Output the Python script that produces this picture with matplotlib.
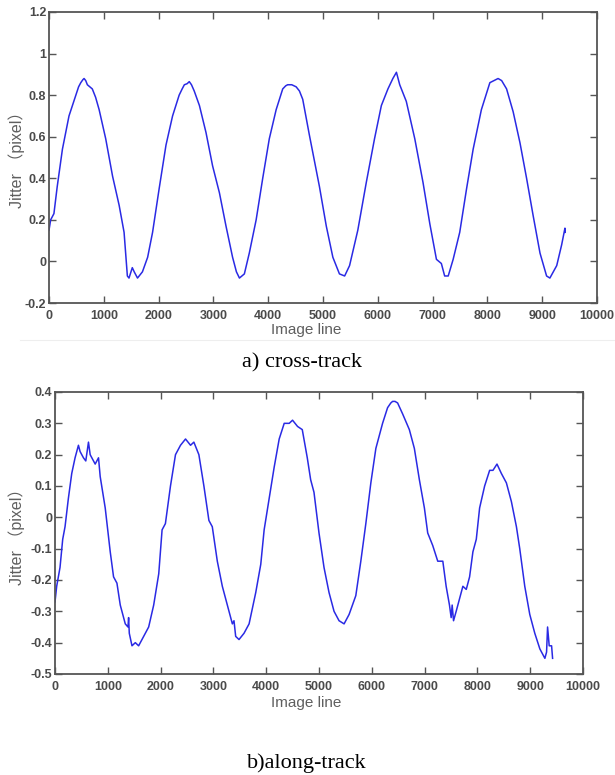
import numpy as np
import matplotlib
matplotlib.use("Agg")
import matplotlib.pyplot as plt
from matplotlib.ticker import FuncFormatter
from matplotlib.lines import Line2D

# cross-track jitter
cross_x = [0, 30, 90, 150, 245, 365, 490, 540, 580, 620,
           640, 670, 700, 745, 790, 850, 915, 1035, 1160, 1280,
           1370, 1430, 1460, 1520, 1555, 1615, 1705, 1800, 1890, 2010,
           2135, 2255, 2375, 2430, 2470, 2520, 2560, 2600, 2650, 2745,
           2865, 2985, 3110, 3230, 3350, 3420, 3475, 3520, 3565, 3655,
           3780, 3900, 4020, 4145, 4265, 4320, 4355, 4430, 4510, 4570,
           4630, 4750, 4935, 5060, 5180, 5300, 5395, 5485, 5635, 5790,
           5940, 6065, 6185, 6275, 6340, 6400, 6520, 6675, 6825, 6950,
           7070, 7160, 7220, 7285, 7375, 7495, 7620, 7740, 7890, 8045,
           8120, 8195, 8260, 8350, 8470, 8595, 8715, 8835, 8960, 9080,
           9140, 9265, 9355, 9415, 9420]
cross_y = [0.15, 0.20, 0.23, 0.36, 0.54, 0.70, 0.80, 0.84, 0.86, 0.875,
           0.88, 0.87, 0.85, 0.84, 0.83, 0.79, 0.73, 0.59, 0.41, 0.27,
           0.14, -0.07, -0.08, -0.03, -0.05, -0.08, -0.05, 0.02, 0.14, 0.35,
           0.56, 0.70, 0.80, 0.83, 0.85, 0.855, 0.865, 0.85, 0.82, 0.75,
           0.62, 0.46, 0.33, 0.17, 0.02, -0.05, -0.08, -0.07, -0.06, 0.04,
           0.20, 0.40, 0.59, 0.73, 0.83, 0.845, 0.85, 0.85, 0.84, 0.82,
           0.78, 0.61, 0.36, 0.17, 0.02, -0.06, -0.07, -0.02, 0.15, 0.38,
           0.59, 0.75, 0.83, 0.88, 0.91, 0.85, 0.77, 0.59, 0.38, 0.18,
           0.01, -0.01, -0.07, -0.07, 0.01, 0.14, 0.35, 0.54, 0.73, 0.86,
           0.87, 0.88, 0.87, 0.83, 0.72, 0.57, 0.40, 0.22, 0.04, -0.07,
           -0.08, -0.02, 0.08, 0.16, 0.14]

# along-track jitter
along_x = [0, 32, 95, 146, 190, 253, 317, 380, 444, 475,
           539, 583, 634, 666, 761, 824, 856, 951, 1046, 1109,
           1173, 1236, 1331, 1382, 1394, 1407, 1458, 1521, 1584, 1679,
           1774, 1869, 1965, 2028, 2091, 2123, 2187, 2282, 2377, 2472,
           2567, 2630, 2725, 2820, 2915, 2979, 3074, 3169, 3264, 3359,
           3390, 3422, 3485, 3580, 3676, 3802, 3897, 3961, 4056, 4151,
           4246, 4341, 4436, 4499, 4594, 4683, 4778, 4842, 4905, 5000,
           5095, 5190, 5285, 5380, 5475, 5570, 5697, 5792, 5887, 5982,
           6077, 6204, 6299, 6360, 6394, 6440, 6489, 6584, 6711, 6806,
           6901, 6996, 7059, 7154, 7249, 7345, 7408, 7471, 7503, 7522,
           7548, 7598, 7662, 7725, 7789, 7852, 7915, 7979, 8042, 8137,
           8232, 8295, 8371, 8454, 8549, 8644, 8739, 8802, 8897, 8992,
           9087, 9183, 9278, 9310, 9329, 9360, 9405, 9424]
along_y = [-0.27, -0.22, -0.16, -0.07, -0.03, 0.06, 0.14, 0.19, 0.23, 0.21,
           0.19, 0.18, 0.24, 0.20, 0.17, 0.19, 0.13, 0.03, -0.11, -0.19,
           -0.21, -0.28, -0.34, -0.35, -0.32, -0.37, -0.41, -0.40, -0.41, -0.38,
           -0.35, -0.28, -0.18, -0.04, -0.02, 0.02, 0.10, 0.20, 0.23, 0.25,
           0.23, 0.24, 0.20, 0.10, -0.01, -0.03, -0.14, -0.22, -0.28, -0.34,
           -0.33, -0.38, -0.39, -0.37, -0.34, -0.24, -0.15, -0.04, 0.06, 0.16,
           0.25, 0.30, 0.30, 0.31, 0.29, 0.28, 0.19, 0.12, 0.08, -0.05,
           -0.16, -0.24, -0.30, -0.33, -0.34, -0.31, -0.25, -0.14, -0.02, 0.11,
           0.22, 0.30, 0.35, 0.365, 0.37, 0.37, 0.365, 0.33, 0.28, 0.22,
           0.12, 0.03, -0.05, -0.09, -0.14, -0.14, -0.22, -0.28, -0.32, -0.28,
           -0.33, -0.30, -0.26, -0.22, -0.23, -0.19, -0.11, -0.07, 0.03, 0.10,
           0.15, 0.15, 0.17, 0.14, 0.11, 0.05, -0.03, -0.10, -0.22, -0.31,
           -0.37, -0.42, -0.45, -0.43, -0.35, -0.41, -0.41, -0.45]

x_ticks = np.arange(0, 10001, 1000)
cross_ticks = np.round(np.arange(-0.2, 1.21, 0.2), 1)
along_ticks = np.round(np.arange(-0.5, 0.41, 0.1), 1)

W, H = 615, 775
fig = plt.figure(figsize=(W / 100, H / 100), dpi=100)

line_color = "#2a2ae4"
frame_color = "#555555"
tick_color = "#4a4a4a"
label_color = "#5f5f5f"


def px_box(left, top, right, bottom):
    return [left / W, 1 - bottom / H, (right - left) / W, (bottom - top) / H]


def fmt_y(v, pos):
    return "%g" % (round(v, 1) + 0.0)


def style_axes(ax, yticks, ylim):
    ax.set_xlim(0, 10000)
    ax.set_ylim(*ylim)
    ax.set_xticks(x_ticks)
    ax.set_yticks(yticks)
    ax.yaxis.set_major_formatter(FuncFormatter(fmt_y))
    ax.xaxis.set_major_formatter(FuncFormatter(lambda v, p: "%d" % v))
    ax.tick_params(direction="in", length=5, width=1.0, color=frame_color,
                   top=True, right=True, labelsize=9, labelcolor=tick_color)
    ax.tick_params(axis="x", pad=5)
    ax.tick_params(axis="y", pad=2)
    for lab in ax.get_xticklabels() + ax.get_yticklabels():
        lab.set_fontweight("bold")
        lab.set_family("Liberation Sans")
    for s in ax.spines.values():
        s.set_color(frame_color)
        s.set_linewidth(1.3)


# a) cross-track
ax1 = fig.add_axes(px_box(49, 12, 597, 303))
ax1.plot(cross_x, cross_y, color=line_color, lw=1.1)
style_axes(ax1, cross_ticks, (-0.2, 1.2))

# b) along-track
ax2 = fig.add_axes(px_box(55, 392, 583, 674))
ax2.plot(along_x, along_y, color=line_color, lw=1.1)
style_axes(ax2, along_ticks, (-0.5, 0.4))

ylab_fam = ["Liberation Sans", "Noto Sans CJK SC"]
fig.text(17 / W, 1 - 156 / H, "Jitter （pixel）", rotation=90, ha="center",
         va="center", fontsize=11.5, color=label_color, family=ylab_fam)
fig.text(17 / W, 1 - 533 / H, "Jitter （pixel）", rotation=90, ha="center",
         va="center", fontsize=11.5, color=label_color, family=ylab_fam)

fig.text(306 / W, 1 - 330 / H, "Image line", ha="center", va="center",
         fontsize=11, color=label_color, family="Liberation Sans")
fig.text(306 / W, 1 - 703 / H, "Image line", ha="center", va="center",
         fontsize=11, color=label_color, family="Liberation Sans")

# faint border left over from the screenshot
fig.add_artist(Line2D([20 / W, 1.0], [1 - 340 / H, 1 - 340 / H],
                      color="#eeeeee", lw=0.8))

fig.text(302 / W, 1 - 363 / H, "a) cross-track", ha="center", va="center",
         fontsize=16, color="black", family="Liberation Serif")
fig.text(307 / W, 1 - 763 / H, "b)along-track", ha="center", va="center",
         fontsize=16, color="black", family="Liberation Serif")

fig.savefig("out.png", dpi=100)
